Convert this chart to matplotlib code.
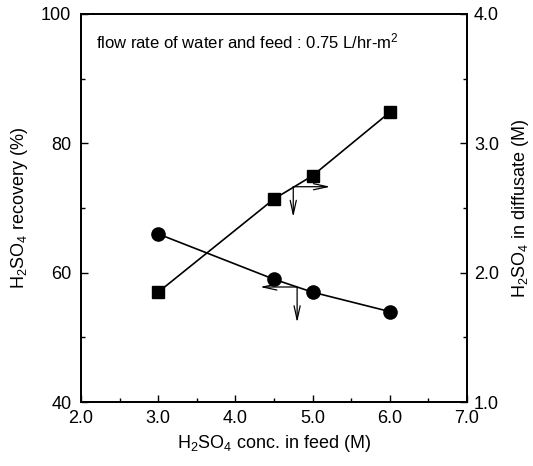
import matplotlib
matplotlib.use("Agg")
import matplotlib.pyplot as plt
from matplotlib.ticker import MultipleLocator, FormatStrFormatter

plt.rcParams['font.family'] = ['Liberation Sans', 'DejaVu Sans']
plt.rcParams['mathtext.fontset'] = 'custom'
plt.rcParams['mathtext.rm'] = 'Liberation Sans'
plt.rcParams['mathtext.it'] = 'Liberation Sans'

# feed concentration (M)
conc = [3.0, 4.5, 5.0, 6.0]
# acid recovery (%) - left axis
recovery = [66.0, 59.0, 57.0, 54.0]
# acid concentration in diffusate (M) - right axis
diffusate = [1.85, 2.57, 2.75, 3.24]

fig = plt.figure(figsize=(5.33, 4.66), dpi=100)
ax = fig.add_axes([0.152, 0.137, 0.724, 0.833])
ax2 = ax.twinx()

ax.plot(conc, recovery, 'k-', lw=1.2, marker='o', ms=9.5)
ax2.plot(conc, diffusate, 'k-', lw=1.2, marker='s', ms=8.5)

ax.set_xlim(2.0, 7.0)
ax.set_ylim(40, 100)
ax2.set_ylim(1.0, 4.0)

ax.xaxis.set_major_locator(MultipleLocator(1.0))
ax.xaxis.set_minor_locator(MultipleLocator(0.5))
ax.yaxis.set_major_locator(MultipleLocator(20))
ax.yaxis.set_minor_locator(MultipleLocator(10))
ax2.yaxis.set_major_locator(MultipleLocator(1.0))
ax2.yaxis.set_minor_locator(MultipleLocator(0.5))
ax.xaxis.set_major_formatter(FormatStrFormatter('%.1f'))
ax2.yaxis.set_major_formatter(FormatStrFormatter('%.1f'))

for a in (ax, ax2):
    a.tick_params(which='both', direction='in', labelsize=13, width=1)
    a.tick_params(which='major', length=5)
    a.tick_params(which='minor', length=3)
    for s in a.spines.values():
        s.set_linewidth(1.3)
ax.tick_params(axis='x', pad=6)
ax.tick_params(axis='y', pad=7)
ax2.tick_params(axis='y', pad=5)

ax.set_xlabel('H$_2$SO$_4$ conc. in feed (M)', fontsize=13, labelpad=4)
ax.set_ylabel('H$_2$SO$_4$ recovery (%)', fontsize=13, labelpad=8)
ax2.set_ylabel('H$_2$SO$_4$ in diffusate (M)', fontsize=13, labelpad=8)

ax.text(2.2, 95.8, 'flow rate of water and feed : 0.75 L/hr-m$^2$',
        fontsize=12, va='center', ha='left')

# arrows pointing to the axis each curve belongs to
arw = dict(arrowstyle='->,head_length=1.0,head_width=0.22', lw=0.9, color='k',
           shrinkA=0, shrinkB=0)
ax.annotate('', xy=(4.32, 57.8), xytext=(4.80, 57.8), arrowprops=arw)
ax.annotate('', xy=(4.80, 52.3), xytext=(4.80, 57.8), arrowprops=arw)
ax.annotate('', xy=(5.23, 73.3), xytext=(4.75, 73.3), arrowprops=arw)
ax.annotate('', xy=(4.75, 68.6), xytext=(4.75, 73.3), arrowprops=arw)

fig.savefig('out.png', dpi=100)
